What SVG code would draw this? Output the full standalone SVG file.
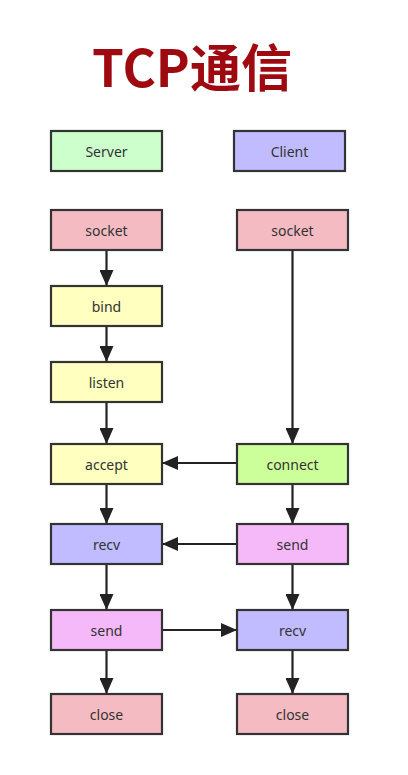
<svg xmlns="http://www.w3.org/2000/svg" width="408" height="775" viewBox="0 0 408 775">
<style>
.n{stroke:#333;stroke-width:2.2}
.t{font-family:"Noto Sans","Open Sans",sans-serif;font-size:14px;fill:#333;text-anchor:middle;dominant-baseline:central}
.title{font-family:"Noto Sans CJK SC","Noto Sans",sans-serif;font-size:51px;font-weight:bold;fill:#9e0a10;text-anchor:middle}
</style>
<defs>
<marker id="ah2" markerWidth="16" markerHeight="14" refX="15" refY="7" orient="auto" markerUnits="userSpaceOnUse">
<path d="M0,0 L16,7 L0,14 Z" fill="#222"/>
</marker>
</defs>
<rect width="408" height="775" fill="#fff"/>
<text class="title" x="192" y="87">TCP通信</text>
<g id="server"><rect class="n" x="51" y="131" width="111" height="40" fill="#ccffcc"/><text class="t" x="106.5" y="151">Server</text></g>
<g id="client"><rect class="n" x="234" y="131" width="111" height="40" fill="#c0bcff"/><text class="t" x="289.5" y="151">Client</text></g>
<g id="s_socket"><rect class="n" x="51" y="210" width="111" height="40" fill="#f4bcc2"/><text class="t" x="106.5" y="230">socket</text></g>
<g id="c_socket"><rect class="n" x="237" y="210" width="111" height="40" fill="#f4bcc2"/><text class="t" x="292.5" y="230">socket</text></g>
<g id="bind"><rect class="n" x="51" y="286" width="111" height="40" fill="#ffffc0"/><text class="t" x="106.5" y="306">bind</text></g>
<g id="listen"><rect class="n" x="51" y="362" width="111" height="40" fill="#ffffc0"/><text class="t" x="106.5" y="382">listen</text></g>
<g id="accept"><rect class="n" x="51" y="444" width="111" height="40" fill="#ffffc0"/><text class="t" x="106.5" y="464">accept</text></g>
<g id="connect"><rect class="n" x="237" y="444" width="111" height="40" fill="#ccff99"/><text class="t" x="292.5" y="464">connect</text></g>
<g id="s_recv"><rect class="n" x="51" y="524" width="111" height="40" fill="#c0bcff"/><text class="t" x="106.5" y="544">recv</text></g>
<g id="c_send"><rect class="n" x="237" y="524" width="111" height="40" fill="#f5b8f8"/><text class="t" x="292.5" y="544">send</text></g>
<g id="s_send"><rect class="n" x="51" y="610" width="111" height="40" fill="#f5b8f8"/><text class="t" x="106.5" y="630">send</text></g>
<g id="c_recv"><rect class="n" x="237" y="610" width="111" height="40" fill="#c0bcff"/><text class="t" x="292.5" y="630">recv</text></g>
<g id="s_close"><rect class="n" x="51" y="694" width="111" height="40" fill="#f4bcc2"/><text class="t" x="106.5" y="714">close</text></g>
<g id="c_close"><rect class="n" x="237" y="694" width="111" height="40" fill="#f4bcc2"/><text class="t" x="292.5" y="714">close</text></g>
<g id="connectors" stroke="#222" stroke-width="2.2" fill="none">
<path d="M106.5,251 V285" marker-end="url(#ah2)"/>
<path d="M106.5,327 V361" marker-end="url(#ah2)"/>
<path d="M106.5,403 V443" marker-end="url(#ah2)"/>
<path d="M106.5,485 V523" marker-end="url(#ah2)"/>
<path d="M106.5,565 V609" marker-end="url(#ah2)"/>
<path d="M106.5,651 V693" marker-end="url(#ah2)"/>
<path d="M292.5,251 V443" marker-end="url(#ah2)"/>
<path d="M292.5,485 V523" marker-end="url(#ah2)"/>
<path d="M292.5,565 V609" marker-end="url(#ah2)"/>
<path d="M292.5,651 V693" marker-end="url(#ah2)"/>
<path d="M236,463 H163" marker-end="url(#ah2)"/>
<path d="M236,544 H163" marker-end="url(#ah2)"/>
<path d="M163,630 H236" marker-end="url(#ah2)"/>
</g>
</svg>
